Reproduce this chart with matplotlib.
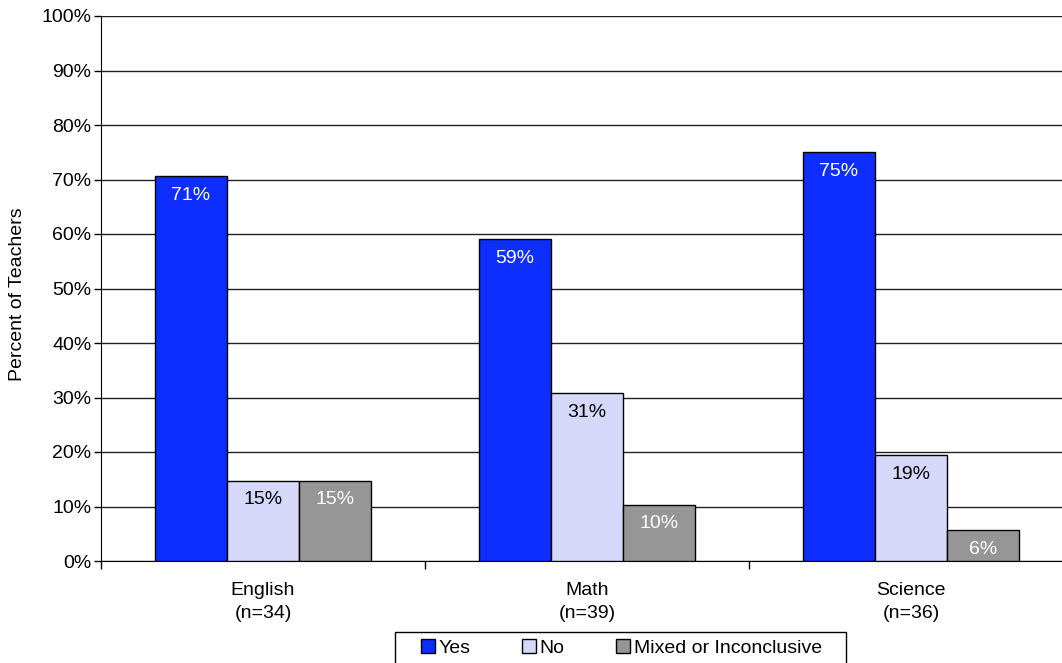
import numpy as np
import matplotlib.pyplot as plt
from matplotlib.patches import Rectangle

plt.rcParams['font.family'] = ['Liberation Sans', 'DejaVu Sans']

# data
subjects = ['English\n(n=34)', 'Math\n(n=39)', 'Science\n(n=36)']
yes = [70.6, 59.0, 75.0]
no = [14.7, 30.8, 19.4]
mixed = [14.7, 10.3, 5.6]
series_names = ['Yes', 'No', 'Mixed or Inconclusive']
colors = ['#0D2EFF', '#D6D8FA', '#969696']
label_colors = ['white', 'black', 'white']

W, H = 1062, 663
fig = plt.figure(figsize=(W / 100, H / 100), dpi=100)
# plot area runs a bit past the right edge of the picture
ax = fig.add_axes([101 / W, (H - 561) / H, 972 / W, 545 / H])

x = np.arange(len(subjects))
bw = 0.2222
for i, (vals, col, lc) in enumerate(zip([yes, no, mixed], colors, label_colors)):
    pos = x + (i - 1) * bw
    ax.bar(pos, vals, width=bw, color=col, edgecolor='black', linewidth=1,
           label=series_names[i], zorder=3)
    for p, v in zip(pos, vals):
        ax.text(p, v - 3.5, f'{v:.0f}%', ha='center', va='center',
                color=lc, fontsize=14, zorder=4)

ax.set_xlim(-0.5, 2.5)
ax.set_ylim(0, 100)
ax.set_yticks(np.arange(0, 101, 10))
ax.set_yticklabels([f'{t}%' for t in range(0, 101, 10)], fontsize=14)
ax.yaxis.grid(True, color='#222222', linewidth=1, zorder=0)
ax.tick_params(axis='y', length=5, width=1, pad=2)

ax.set_xticks(x)
ax.set_xticklabels(subjects, fontsize=14, linespacing=1.5)
ax.tick_params(axis='x', length=0, pad=15)
ax.set_xticks(np.arange(-0.5, 3, 1), minor=True)
ax.tick_params(axis='x', which='minor', length=6, width=1)

for s in ['top', 'right']:
    ax.spines[s].set_visible(False)
ax.spines['left'].set_color('black')
ax.spines['bottom'].set_color('black')

fig.text(18 / W, 1 - 294 / H, 'Percent of Teachers', rotation=90,
         ha='center', va='center', fontsize=14)

# legend box drawn by hand, it runs off the bottom of the picture
fig.patches.append(Rectangle((395 / W, -0.02), 451 / W, (H - 632) / H + 0.02,
                             transform=fig.transFigure, facecolor='white',
                             edgecolor='black', linewidth=1, zorder=5))
leg = fig.legend(loc='center left', bbox_to_anchor=(421 / W, (H - 648) / H),
                 ncol=3, fontsize=14, frameon=False,
                 handlelength=0.7, handleheight=0.7,
                 handletextpad=0.2, columnspacing=2.65, borderpad=0,
                 borderaxespad=0)
leg.set_zorder(6)

fig.savefig('out.png', dpi=100)
